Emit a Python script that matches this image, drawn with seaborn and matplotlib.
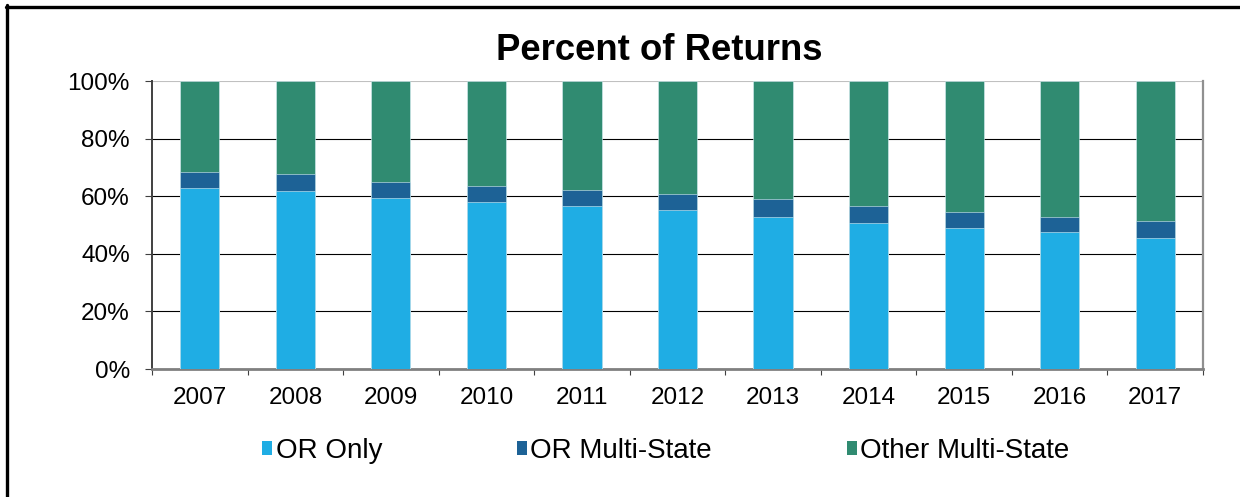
import seaborn as sns
import matplotlib.pyplot as plt
import pandas as pd
from matplotlib.lines import Line2D
from matplotlib.patches import Patch
from matplotlib.ticker import FixedLocator, PercentFormatter

years = ['2007', '2008', '2009', '2010', '2011', '2012',
         '2013', '2014', '2015', '2016', '2017']
or_only = [62.8, 61.8, 59.4, 58.0, 56.6, 55.1, 52.8, 50.7, 48.9, 47.6, 45.6]
or_multi = [5.5, 5.8, 5.6, 5.7, 5.7, 5.8, 6.1, 5.8, 5.5, 5.3, 5.7]
other_multi = [31.7, 32.4, 35.0, 36.3, 37.7, 39.1, 41.1, 43.5, 45.6, 47.1, 48.7]

labels = ['OR Only', 'OR Multi-State', 'Other Multi-State']
colors = ['#1fade4', '#1d6296', '#308b71']

sns.set_theme(style="white")
plt.rcParams['font.family'] = ['Liberation Sans', 'DejaVu Sans']
plt.rcParams['text.color'] = 'black'

df = pd.DataFrame({'year': years, 'or_only': or_only,
                   'or_multi': or_multi, 'other_multi': other_multi})
df['lvl2'] = df['or_only'] + df['or_multi']
df['lvl3'] = df['lvl2'] + df['other_multi']

fig = plt.figure(figsize=(12.4, 4.97), dpi=100)
ax = fig.add_axes([152 / 1240, 1 - 369 / 497, (1203 - 152) / 1240, (369 - 81) / 497])

# stacked bars: draw cumulative totals back to front
for col, c in zip(['lvl3', 'lvl2', 'or_only'], colors[::-1]):
    sns.barplot(data=df, x='year', y=col, color=c, width=0.41, ax=ax,
                saturation=1, edgecolor='#d8eef5', linewidth=0.4, zorder=3)

ax.set_xlim(-0.5, len(years) - 0.5)
ax.set_ylim(0, 100)
ax.set_xlabel('')
ax.set_ylabel('')
ax.yaxis.set_major_locator(FixedLocator([0, 20, 40, 60, 80, 100]))
ax.yaxis.set_major_formatter(PercentFormatter(decimals=0))

ax.grid(axis='y', color='black', lw=0.8, zorder=0)
ax.set_axisbelow(True)
ax.get_ygridlines()[-1].set_color('#c0c0c0')

ax.spines['top'].set_visible(False)
ax.spines['left'].set_color('#404040')
ax.spines['left'].set_linewidth(1.4)
ax.spines['bottom'].set_color('#808080')
ax.spines['bottom'].set_linewidth(2)
ax.spines['right'].set_color('#909090')
ax.spines['right'].set_linewidth(1.6)

ax.tick_params(axis='y', which='major', left=True, length=5, width=0.8,
               color='#404040', pad=11, labelsize=17.5, labelcolor='black')
ax.set_xticks([i - 0.5 for i in range(len(years) + 1)], minor=True)
ax.tick_params(axis='x', which='minor', bottom=True, length=4.5, width=0.8,
               color='#404040')
ax.tick_params(axis='x', which='major', bottom=False, length=0, pad=13,
               labelsize=17.5, labelcolor='black')

fig.text(0.532, 1 - 50 / 497, 'Percent of Returns', ha='center', va='center',
         fontsize=26.3, fontweight='bold', color='black')

handles = [Patch(facecolor=c, edgecolor='none') for c in colors]
fig.legend(handles, labels, loc='center', bbox_to_anchor=(0.537, 1 - 451 / 497),
           ncol=3, frameon=False, fontsize=20, handlelength=0.36,
           handleheight=0.36, handletextpad=0.12, columnspacing=4.85,
           labelcolor='black')

# outer frame, cut off at the right and bottom
fig.add_artist(Line2D([6.5 / 1240, 6.5 / 1240], [0, 1 - 5 / 497],
                      color='black', lw=2.4, transform=fig.transFigure))
fig.add_artist(Line2D([5.5 / 1240, 1], [1 - 6.5 / 497, 1 - 6.5 / 497],
                      color='black', lw=2.4, transform=fig.transFigure))

fig.savefig('out.png', dpi=100, facecolor='white')
